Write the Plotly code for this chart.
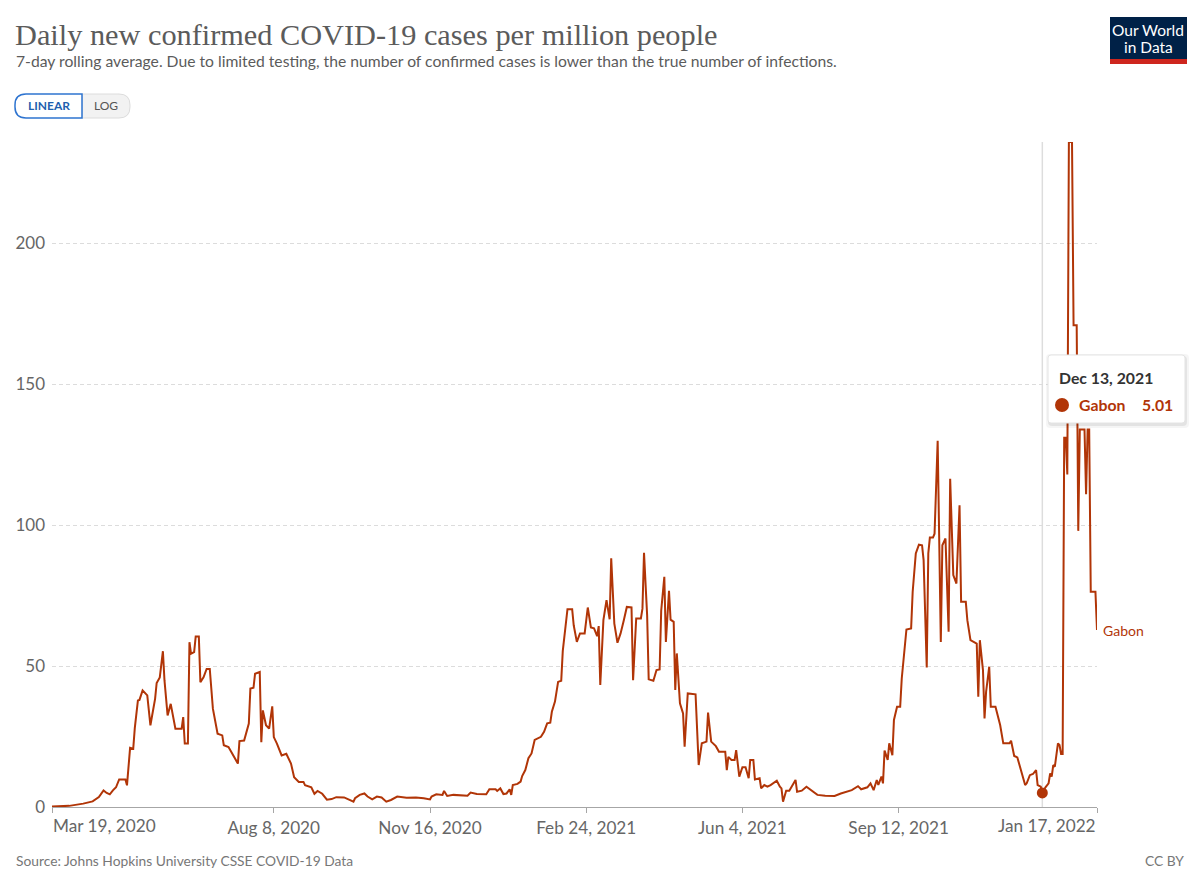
import pandas as pd
import plotly.graph_objects as go

# Gabon, daily new confirmed cases per million (7-day avg)
start = "2020-03-19"
day = [0, 11, 20, 26, 30, 33, 35, 37, 39, 41, 43, 47, 48, 50, 52, 53, 55, 56, 58, 60,
       61, 63, 66, 67, 69, 71, 72, 74, 76, 79, 83, 84, 85, 87, 88, 89, 91, 92, 94, 95,
       97, 99, 101, 103, 106, 109, 110, 113, 115, 117, 119, 120, 123, 126, 127, 129, 130, 133, 134, 135,
       137, 139, 141, 142, 144, 147, 150, 153, 155, 158, 161, 162, 166, 168, 170, 173, 176, 179, 182, 187,
       190, 193, 194, 197, 200, 202, 205, 208, 211, 214, 217, 221, 227, 233, 238, 242, 243, 246, 250, 251,
       253, 257, 266, 268, 272, 278, 280, 284, 285, 287, 289, 291, 293, 294, 295, 298, 300, 301, 303, 305,
       307, 309, 313, 315, 317, 319, 320, 322, 324, 326, 327, 329, 330, 333, 334, 336, 338, 341, 343, 345,
       347, 349, 350, 351, 353, 355, 357, 358, 360, 362, 364, 366, 368, 371, 372, 374, 377, 378, 379, 381,
       382, 385, 387, 389, 390, 392, 393, 395, 396, 398, 399, 400, 402, 404, 405, 407, 412, 414, 416, 419,
       420, 422, 425, 427, 431, 432, 433, 435, 437, 438, 440, 442, 444, 446, 447, 449, 450, 453, 454, 456,
       458, 460, 464, 466, 467, 468, 470, 472, 474, 476, 477, 480, 483, 486, 490, 495, 501, 505, 512, 516,
       518, 522, 524, 526, 528, 529, 531, 532, 533, 535, 536, 538, 539, 541, 543, 544, 546, 547, 550, 551,
       553, 555, 557, 558, 560, 561, 562, 564, 565, 567, 569, 570, 572, 574, 575, 577, 579, 581, 582, 585,
       586, 588, 592, 593, 594, 596, 597, 598, 600, 601, 604, 607, 609, 613, 614, 616, 618, 619, 621, 623,
       624, 626, 628, 630, 631, 633, 634, 636, 638, 639, 640, 641, 642, 644, 645, 646, 647, 648, 649, 650,
       651, 652, 653, 654, 655, 656, 657, 658, 659, 660, 661, 662, 663, 664, 665, 666, 667, 668, 669]
cases = [0.2, 0.4, 1.2, 2.0, 3.5, 5.9, 5.0, 4.5, 5.9, 7.0, 9.8, 9.8, 7.7, 21.0, 20.7, 28.0, 37.8, 38.0, 41.4, 40.0,
         39.6, 29.0, 38.4, 44.0, 46.0, 55.3, 45.0, 32.5, 36.6, 27.8, 27.8, 31.9, 22.5, 22.5, 58.5, 54.4, 55.0, 60.5, 60.5, 44.3,
         46.0, 49.0, 49.0, 34.9, 26.0, 25.4, 21.9, 21.3, 19.5, 17.7, 15.4, 23.4, 23.6, 29.6, 42.0, 42.3, 47.3, 47.9, 23.0, 34.3,
         29.0, 27.8, 35.7, 24.8, 22.5, 18.3, 18.9, 15.4, 10.6, 8.9, 8.9, 7.7, 7.0, 4.7, 5.7, 4.7, 2.6, 2.8, 3.5, 3.4,
         2.5, 1.9, 3.1, 4.3, 4.8, 3.7, 2.7, 3.7, 3.4, 1.9, 2.5, 3.7, 3.3, 3.4, 3.1, 2.7, 3.7, 4.5, 4.3, 5.7,
         3.9, 4.3, 4.0, 5.1, 4.6, 4.5, 6.3, 6.3, 5.7, 6.6, 4.6, 4.8, 6.3, 4.3, 7.8, 8.2, 9.0, 11.0, 13.1, 17.3,
         19.0, 23.8, 24.9, 26.7, 29.7, 29.9, 33.8, 37.4, 44.4, 44.8, 55.4, 65.4, 70.2, 70.2, 64.5, 58.6, 61.6, 61.6, 70.8, 63.7,
         63.4, 60.6, 64.2, 43.3, 66.3, 73.4, 66.6, 88.3, 65.1, 58.3, 61.6, 66.1, 71.0, 70.8, 45.0, 66.9, 66.9, 70.4, 90.2, 68.1,
         45.3, 44.8, 48.6, 48.8, 69.6, 81.7, 58.6, 76.7, 66.5, 65.7, 41.5, 54.5, 36.8, 33.2, 21.4, 40.3, 40.0, 14.9, 22.6, 23.2,
         33.5, 23.2, 21.6, 19.6, 19.6, 13.1, 17.8, 16.7, 16.7, 20.2, 10.8, 14.1, 14.1, 10.2, 16.7, 16.7, 9.8, 10.2, 6.6, 7.8,
         7.2, 7.8, 9.3, 7.2, 6.6, 1.9, 5.8, 5.8, 7.8, 9.6, 5.4, 5.8, 7.2, 6.0, 4.3, 4.0, 3.9, 4.8, 6.0, 7.4,
         6.3, 7.0, 8.4, 6.0, 9.6, 7.8, 10.8, 8.4, 20.0, 16.7, 22.6, 18.4, 30.9, 35.6, 35.6, 45.6, 57.4, 63.0, 63.4, 76.4,
         90.0, 93.1, 92.9, 87.6, 49.5, 90.0, 95.6, 95.6, 97.0, 130.0, 58.6, 92.9, 95.3, 62.2, 116.5, 82.3, 79.3, 107.1, 72.8, 72.8,
         66.3, 59.2, 58.0, 39.1, 59.2, 48.6, 31.4, 40.9, 49.8, 35.6, 35.6, 29.1, 22.6, 22.6, 23.5, 18.1, 17.6, 15.5, 11.7, 7.8,
         8.4, 11.3, 11.7, 13.1, 7.8, 7.2, 5.01, 7.0, 8.4, 11.9, 10.8, 14.9, 14.3, 22.6, 22.0, 18.8, 18.8, 131.0, 131.0, 118.0,
         236.0, 236.0, 236.0, 171.0, 171.0, 171.0, 98.0, 134.0, 134.0, 134.0, 134.0, 111.0, 134.0, 134.0, 76.4, 76.4, 76.4, 76.4, 62.8]

country = "Gabon"
tick_dates = ["2020-03-19", "2020-08-08", "2020-11-16", "2021-02-24", "2021-06-04", "2021-09-12", "2022-01-17"]
tick_labels = ["Mar 19, 2020", "Aug 8, 2020", "Nov 16, 2020", "Feb 24, 2021", "Jun 4, 2021", "Sep 12, 2021", "Jan 17, 2022"]
y_ticks = [0, 50, 100, 150, 200]
hover_date = "2021-12-13"

dates = pd.Timestamp(start) + pd.to_timedelta(day, unit="D")
df = pd.DataFrame({"date": dates, "cases": cases})

W, H = 1200, 871
L, R, T, B = 52, 103, 142, 64
LINE = "#b13507"
FONT = "Lato"


def px(x):
    return (x - L) / (W - L - R)


def py(y):
    return (H - B - y) / (H - T - B)


def rounded(x0, y0, x1, y1, r, left=True, right=True):
    # rounded rectangle path given in pixel coords, converted to paper coords
    rl = r if left else 0
    rr = r if right else 0
    pts = [
        ("M", [(x0 + rl, y0)]),
        ("L", [(x1 - rr, y0)]),
        ("Q", [(x1, y0), (x1, y0 + rr)]),
        ("L", [(x1, y1 - rr)]),
        ("Q", [(x1, y1), (x1 - rr, y1)]),
        ("L", [(x0 + rl, y1)]),
        ("Q", [(x0, y1), (x0, y1 - rl)]),
        ("L", [(x0, y0 + rl)]),
        ("Q", [(x0, y0), (x0 + rl, y0)]),
    ]
    s = ""
    for cmd, coords in pts:
        s += cmd + " ".join("%.5f,%.5f" % (px(a), py(b)) for a, b in coords) + " "
    return s + "Z"


fig = go.Figure()
fig.add_trace(go.Scatter(x=df["date"], y=df["cases"], mode="lines",
                         line=dict(color=LINE, width=2), hoverinfo="skip"))

hov = df[df["date"] == pd.Timestamp(hover_date)].iloc[0]
fig.add_trace(go.Scatter(x=[hov["date"]], y=[hov["cases"]], mode="markers",
                         marker=dict(color=LINE, size=11), hoverinfo="skip", cliponaxis=False))

shapes = []
# hover guide line
shapes.append(dict(type="line", xref="x", yref="paper", x0=hov["date"], x1=hov["date"],
                   y0=0, y1=1, line=dict(color="#dddddd", width=1.5), layer="below"))
# scale toggle
shapes.append(dict(type="path", xref="paper", yref="paper", path=rounded(82, 94, 130, 118, 11, left=False),
                   fillcolor="#f2f2f2", line=dict(color="#dcdcdc", width=1)))
shapes.append(dict(type="path", xref="paper", yref="paper", path=rounded(15, 94, 82, 118, 11, right=False),
                   fillcolor="white", line=dict(color="#2e74d0", width=1.5)))
# logo
shapes.append(dict(type="rect", xref="paper", yref="paper", x0=px(1110), x1=px(1187), y0=py(17), y1=py(59),
                   fillcolor="#002147", line=dict(width=0)))
shapes.append(dict(type="rect", xref="paper", yref="paper", x0=px(1110), x1=px(1187), y0=py(59), y1=py(64),
                   fillcolor="#ce261e", line=dict(width=0)))
# tooltip box with soft shadow
for off, a in [(4, 0.04), (2, 0.07)]:
    shapes.append(dict(type="path", xref="paper", yref="paper",
                       path=rounded(1048 - off + 2, 355 - off + 3, 1185 + off, 423 + off + 1, 4),
                       fillcolor="rgba(0,0,0,%.2f)" % a, line=dict(width=0)))
shapes.append(dict(type="path", xref="paper", yref="paper", path=rounded(1048, 355, 1185, 423, 3),
                   fillcolor="white", line=dict(color="#e4e4e4", width=1)))
shapes.append(dict(type="circle", xref="paper", yref="paper", x0=px(1055), x1=px(1069), y0=py(398), y1=py(412),
                   fillcolor=LINE, line=dict(width=0)))

ann = []


def text(x, y, s, size, color, anchor="left", family=FONT, yanchor="middle"):
    ann.append(dict(xref="paper", yref="paper", x=px(x), y=py(y), text=s, showarrow=False,
                    xanchor=anchor, yanchor=yanchor, font=dict(family=family, size=size, color=color)))


text(13, 35, "Daily new confirmed COVID-19 cases per million people", 30.3, "#5b5b5b",
     family="Liberation Serif")
text(14, 61, "7-day rolling average. Due to limited testing, the number of confirmed cases is lower "
             "than the true number of infections.", 15.7, "#5b5b5b")
text(48.5, 106, "<b>LINEAR</b>", 12, "#1f5fae", anchor="center")
text(106, 106, "LOG", 12, "#555555", anchor="center")
text(1148.5, 30, "Our World", 15.5, "white", anchor="center")
text(1148.5, 47, "in Data", 15.5, "white", anchor="center")
text(14, 860, "Source: Johns Hopkins University CSSE COVID-19 Data", 13.8, "#777777")
text(1186, 860, "CC BY", 13.8, "#777777", anchor="right")
# first / last date labels sit flush with the axis ends
text(51, 826, tick_labels[0], 17.2, "#666666")
text(1098, 826, tick_labels[-1], 17.2, "#666666", anchor="right")
# tooltip content
text(1057, 377, "<b>" + hov["date"].strftime("%b %-d, %Y") + "</b>", 15.8, "#333333")
text(1077, 405, "<b>" + country + "</b>", 15.8, LINE)
text(1175, 405, "<b>%.2f</b>" % hov["cases"], 15.8, LINE, anchor="right")
# line label
ann.append(dict(x=df["date"].iloc[-1], y=df["cases"].iloc[-1], xref="x", yref="y", text=country,
                showarrow=False, xanchor="left", yanchor="middle", xshift=4,
                font=dict(family=FONT, size=14, color=LINE)))

fig.update_layout(
    width=W, height=H,
    margin=dict(l=L, r=R, t=T, b=B),
    paper_bgcolor="white", plot_bgcolor="white",
    showlegend=False, hovermode=False,
    font=dict(family=FONT, color="#666666"),
    shapes=shapes, annotations=ann,
    xaxis=dict(type="date", range=[tick_dates[0], tick_dates[-1]],
               tickvals=tick_dates, ticktext=[""] + tick_labels[1:-1] + [""],
               showgrid=False, zeroline=False, showline=True, linecolor="#a6a6a6", linewidth=1,
               ticks="outside", ticklen=5, tickcolor="#a6a6a6",
               tickfont=dict(family=FONT, size=17.2, color="#666666")),
    yaxis=dict(range=[0, max(cases)], tickvals=y_ticks, showgrid=True, gridcolor="#dcdcdc",
               griddash="4px,3px", zeroline=False, showline=False, ticks="",
               ticklabelstandoff=6,
               tickfont=dict(family=FONT, size=17, color="#666666")),
)

fig.write_html("out.html", config={"displayModeBar": False},
               post_script="document.body.style.margin='0';")
